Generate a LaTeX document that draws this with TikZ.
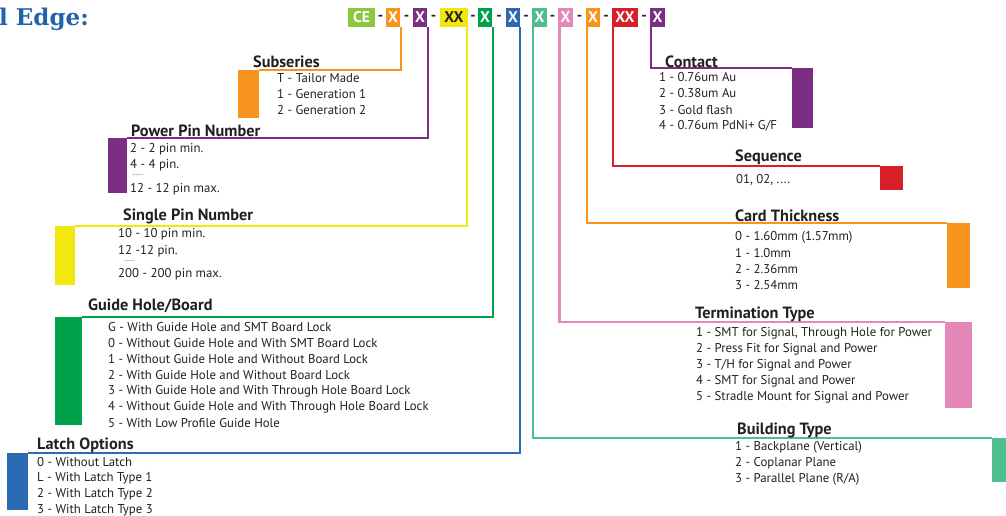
\documentclass[tikz,border=0pt]{standalone}
\usepackage{fontspec}
\setmainfont{PT Sans}
\newfontfamily\titlefont{DejaVu Serif}
\definecolor{txt}{HTML}{231F20}
\definecolor{titleblue}{HTML}{1F63A8}
\definecolor{limec}{HTML}{8DC63F}
\definecolor{orangec}{HTML}{F7941D}
\definecolor{purplec}{HTML}{7B2E83}
\definecolor{yellowc}{HTML}{F2E70F}
\definecolor{greenc}{HTML}{00A14B}
\definecolor{bluec}{HTML}{2A6BB4}
\definecolor{tealc}{HTML}{4FBE8F}
\definecolor{pinkc}{HTML}{E587B9}
\definecolor{redc}{HTML}{D71F27}
\begin{document}
\begin{tikzpicture}[x=1pt,y=-1pt,
  item/.style={anchor=west, inner sep=0, text=txt, font=\fontsize{12.8}{14}\selectfont},
  dots/.style={anchor=west, inner sep=0, text=txt, font=\fontsize{7.5}{8}\selectfont},
  head/.style={anchor=west, inner sep=0, text=txt, font=\bfseries\fontsize{16.3}{18}\selectfont},
  code/.style={inner sep=0, minimum height=19pt, font=\bfseries\fontsize{15.5}{16}\selectfont, text=white},
  hyph/.style={inner sep=0, text=txt, font=\bfseries\fontsize{15}{16}\selectfont},
  link/.style={line width=2.4pt},
  bar/.style={inner sep=0, anchor=north west}
]
\useasboundingbox (0,0) rectangle (1006,516);

% title
\node[anchor=base west, inner sep=0, text=titleblue, font=\titlefont\bfseries\fontsize{23}{26}\selectfont] (title) at (-1,26) {l Edge:};

% code bar
\node[code, fill=limec, minimum width=27pt] (c0) at (361.5,17.5) {CE};
\node[code, fill=orangec, minimum width=14pt] (c1) at (393,17.5) {X};
\node[code, fill=purplec, minimum width=14pt] (c2) at (420,17.5) {X};
\node[code, fill=yellowc, minimum width=28pt, text=txt] (c3) at (454,17.5) {XX};
\node[code, fill=greenc, minimum width=14pt] (c4) at (485,17.5) {X};
\node[code, fill=bluec, minimum width=14pt] (c5) at (513,17.5) {X};
\node[code, fill=tealc, minimum width=15pt] (c6) at (539.5,17.5) {X};
\node[code, fill=pinkc, minimum width=15pt] (c7) at (565.5,17.5) {X};
\node[code, fill=orangec, minimum width=14pt] (c8) at (593,17.5) {X};
\node[code, fill=redc, minimum width=26pt] (c9) at (625,17.5) {XX};
\node[code, fill=purplec, minimum width=15pt] (c10) at (657.5,17.5) {X};
\node[hyph] (h1) at (380.5,18) {-};
\node[hyph] (h2) at (406.5,18) {-};
\node[hyph] (h3) at (433.5,18) {-};
\node[hyph] (h4) at (473,18) {-};
\node[hyph] (h5) at (499,18) {-};
\node[hyph] (h6) at (526,18) {-};
\node[hyph] (h7) at (552.5,18) {-};
\node[hyph] (h8) at (579.5,18) {-};
\node[hyph] (h9) at (606,18) {-};
\node[hyph] (h10) at (644,18) {-};

% bars
\node[bar, fill=orangec, minimum width=21pt, minimum height=48pt] (b1) at (238,70) {};
\node[bar, fill=purplec, minimum width=19pt, minimum height=55pt] (b2) at (108,138) {};
\node[bar, fill=yellowc, minimum width=20pt, minimum height=59pt] (b3) at (55,226) {};
\node[bar, fill=greenc, minimum width=27pt, minimum height=108pt] (b4) at (55,317) {};
\node[bar, fill=bluec, minimum width=21pt, minimum height=57pt] (b5) at (7,453) {};
\node[bar, fill=tealc, minimum width=20pt, minimum height=44pt] (b6) at (992,438) {};
\node[bar, fill=pinkc, minimum width=27pt, minimum height=86pt] (b7) at (945,322) {};
\node[bar, fill=orangec, minimum width=23pt, minimum height=65pt] (b8) at (947,223) {};
\node[bar, fill=redc, minimum width=23pt, minimum height=24pt] (b9) at (880,166) {};
\node[bar, fill=purplec, minimum width=21pt, minimum height=60pt] (b10) at (792,68) {};

% connectors
\draw[link, orangec] ([xshift=1pt]c1.south east) |- (b1.north east);
\draw[link, purplec] ([xshift=0.5pt]c2.south east) |- (b2.north east);
\draw[link, yellowc] ([xshift=-1pt]c3.south east) |- (b3.north east);
\draw[link, greenc] ([xshift=0.5pt]c4.south east) |- (b4.north east);
\draw[link, bluec] ([xshift=-0.5pt]c5.south east) |- (b5.north east);
\draw[link, tealc] ([xshift=1pt]c6.south west) |- (b6.north west);
\draw[link, pinkc] ([xshift=1.5pt]c7.south west) |- (b7.north west);
\draw[link, orangec] ([xshift=1pt]c8.south west) |- (b8.north west);
\draw[link, redc] ([xshift=1pt]c9.south west) |- (b9.north west);
\draw[link, purplec] ([xshift=1pt]c10.south west) |- (b10.north west);

% Subseries
\node[head] (t1) at (253,62) {Subseries};
\node[item] (t1a) at (277,78) {T - Tailor Made};
\node[item] (t1b) at (277,94) {1 - Generation 1};
\node[item] (t1c) at (277,110) {2 - Generation 2};

% Power Pin Number
\node[head] (t2) at (131,131) {Power Pin Number};
\node[item] (t2a) at (130,149) {2 - 2 pin min.};
\node[item] (t2b) at (130,165) {4 - 4 pin.};
\node[dots] (t2c) at (133,175) {.....};
\node[item] (t2d) at (130,189) {12 - 12 pin max.};

% Single Pin Number
\node[head] (t3) at (123,216) {Single Pin Number};
\node[item] (t3a) at (118,234) {10 - 10 pin min.};
\node[item] (t3b) at (118,251) {12 -12 pin.};
\node[dots] (t3c) at (124,261) {.....};
\node[item] (t3d) at (118,274) {200 - 200 pin max.};

% Guide Hole/Board
\node[head] (t4) at (88,306) {Guide Hole/Board};
\node[item] (t4a) at (108,327) {G - With Guide Hole and SMT Board Lock};
\node[item] (t4b) at (108,343) {0 - Without Guide Hole and With SMT Board Lock};
\node[item] (t4c) at (108,359) {1 - Without Guide Hole and Without Board Lock};
\node[item] (t4d) at (108,375) {2 - With Guide Hole and Without Board Lock};
\node[item] (t4e) at (108,391) {3 - With Guide Hole and With Through Hole Board Lock};
\node[item] (t4f) at (108,407) {4 - Without Guide Hole and With Through Hole Board Lock};
\node[item] (t4g) at (108,423) {5 - With Low Profile Guide Hole};

% Latch Options
\node[head] (t5) at (37,445) {Latch Options};
\node[item] (t5a) at (37,462) {0 - Without Latch};
\node[item] (t5b) at (37,478) {L - With Latch Type 1};
\node[item] (t5c) at (37,494) {2 - With Latch Type 2};
\node[item] (t5d) at (37,510) {3 - With Latch Type 3};

% Contact
\node[head] (t10) at (665,62) {Contact};
\node[item] (t10a) at (659,77) {1 - 0.76um Au};
\node[item] (t10b) at (659,93.5) {2 - 0.38um Au};
\node[item] (t10c) at (659,110) {3 - Gold flash};
\node[item] (t10d) at (659,126) {4 - 0.76um PdNi+ G/F};

% Sequence
\node[head] (t9) at (735,157) {Sequence};
\node[item] (t9a) at (736,180) {01, 02, ....};

% Card Thickness
\node[head] (t8) at (735,216) {Card Thickness};
\node[item] (t8a) at (735,237) {0 - 1.60mm (1.57mm)};
\node[item] (t8b) at (735,253) {1 - 1.0mm};
\node[item] (t8c) at (735,269) {2 - 2.36mm};
\node[item] (t8d) at (735,285) {3 - 2.54mm};

% Termination Type
\node[head] (t7) at (695,314) {Termination Type};
\node[item] (t7a) at (696,333) {1 - SMT for Signal, Through Hole for Power};
\node[item] (t7b) at (696,349) {2 - Press Fit for Signal and Power};
\node[item] (t7c) at (696,365) {3 - T/H for Signal and Power};
\node[item] (t7d) at (696,381) {4 - SMT for Signal and Power};
\node[item] (t7e) at (696,397) {5 - Stradle Mount for Signal and Power};

% Building Type
\node[head] (t6) at (737,430) {Building Type};
\node[item] (t6a) at (735,447) {1 - Backplane (Vertical)};
\node[item] (t6b) at (735,463) {2 - Coplanar Plane};
\node[item] (t6c) at (735,479) {3 - Parallel Plane (R/A)};
\end{tikzpicture}
\end{document}
